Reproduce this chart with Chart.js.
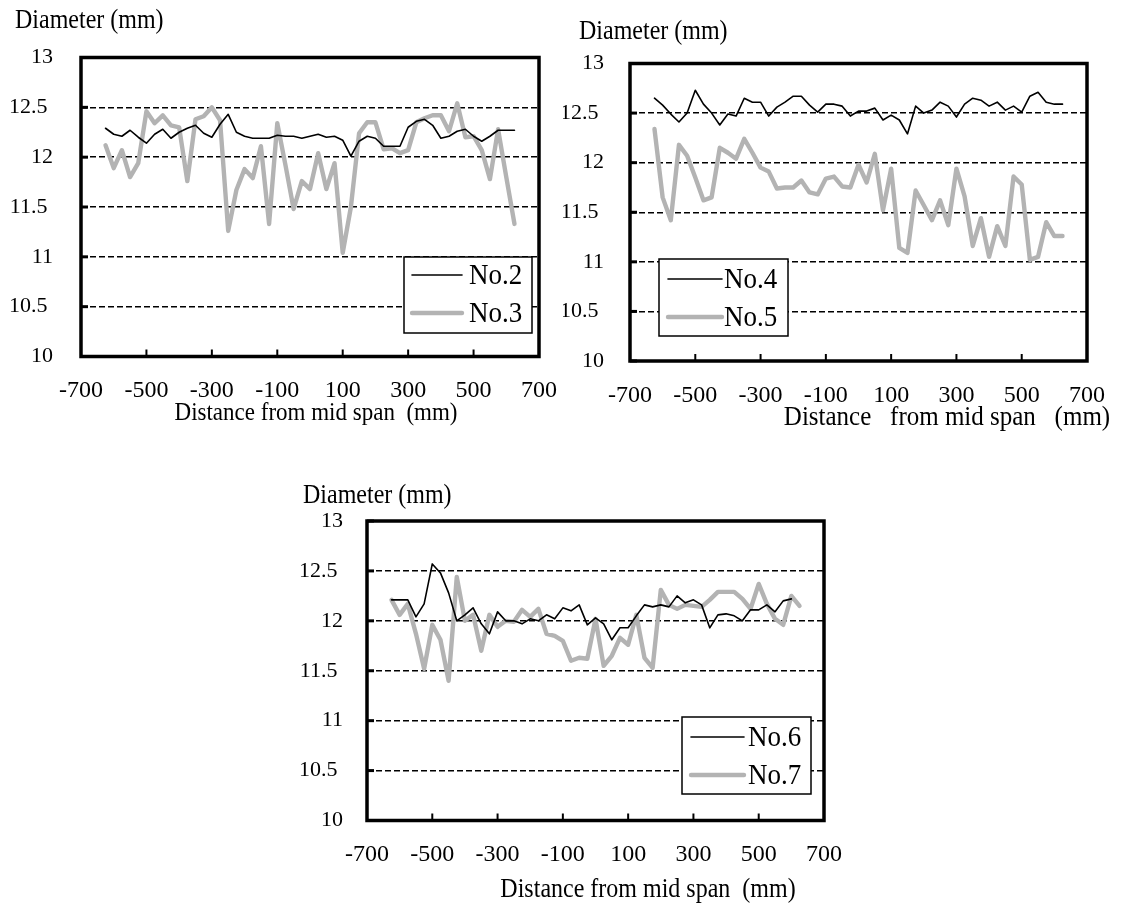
<!DOCTYPE html>
<html>
<head>
<meta charset="utf-8">
<script src="https://cdn.jsdelivr.net/npm/chart.js@4.4.1/dist/chart.umd.min.js"></script>
<style>
  body { margin: 0; background: #fff; }
  #wrap { position: relative; width: 1127px; height: 909px; overflow: hidden; }
  canvas { position: absolute; }
</style>
</head>
<body>
<div id="wrap">
  <canvas id="c1" width="580" height="450" style="left:0px;top:0px"></canvas>
  <canvas id="c2" width="564" height="450" style="left:563px;top:0px"></canvas>
  <canvas id="c3" width="580" height="439" style="left:280px;top:470px"></canvas>
</div>
<script>
// distance from mid span (mm)
const positions = [-625, -600, -575, -550, -525, -500, -475, -450, -425, -400,
  -375, -350, -325, -300, -275, -250, -225, -200, -175, -150,
  -125, -100, -75, -50, -25, 0, 25, 50, 75, 100,
  125, 150, 175, 200, 225, 250, 275, 300, 325, 350,
  375, 400, 425, 450, 475, 500, 525, 550, 575, 600, 625];

const xTicks = [-700, -500, -300, -100, 100, 300, 500, 700];
const yTicks = [10, 10.5, 11, 11.5, 12, 12.5, 13];

// diameters (mm)
const no2 = [12.29, 12.23, 12.21, 12.27, 12.20, 12.14, 12.23, 12.28, 12.19, 12.25,
  12.29, 12.32, 12.24, 12.20, 12.33, 12.43, 12.25, 12.21, 12.19, 12.19,
  12.19, 12.22, 12.21, 12.21, 12.19, 12.21, 12.23, 12.20, 12.21, 12.17,
  12.01, 12.16, 12.21, 12.19, 12.11, 12.11, 12.11, 12.30, 12.36, 12.38,
  12.32, 12.19, 12.21, 12.26, 12.28, 12.21, 12.16, 12.21, 12.27, 12.27, 12.27];
const no3 = [12.12, 11.89, 12.07, 11.80, 11.94, 12.46, 12.34, 12.42, 12.32, 12.30,
  11.76, 12.38, 12.41, 12.50, 12.37, 11.26, 11.67, 11.88, 11.79, 12.11,
  11.33, 12.34, 11.92, 11.48, 11.76, 11.68, 12.04, 11.68, 11.94, 11.04,
  11.50, 12.24, 12.35, 12.35, 12.08, 12.09, 12.04, 12.07, 12.35, 12.39,
  12.42, 12.42, 12.26, 12.54, 12.20, 12.21, 12.07, 11.78, 12.28, 11.80, 11.33];
const no4 = [12.65, 12.58, 12.49, 12.41, 12.50, 12.73, 12.59, 12.50, 12.38, 12.49,
  12.47, 12.65, 12.61, 12.61, 12.47, 12.56, 12.61, 12.67, 12.67, 12.58,
  12.51, 12.59, 12.59, 12.57, 12.47, 12.52, 12.52, 12.55, 12.43, 12.48,
  12.43, 12.29, 12.57, 12.50, 12.53, 12.61, 12.57, 12.46, 12.59, 12.65,
  12.63, 12.57, 12.61, 12.53, 12.57, 12.51, 12.67, 12.71, 12.61, 12.59, 12.59];
const no5 = [12.34, 11.65, 11.42, 12.18, 12.07, 11.85, 11.62, 11.65, 12.15, 12.10,
  12.04, 12.24, 12.10, 11.95, 11.91, 11.74, 11.75, 11.75, 11.82, 11.70,
  11.68, 11.84, 11.86, 11.76, 11.75, 11.98, 11.80, 12.09, 11.52, 11.94,
  11.14, 11.09, 11.72, 11.57, 11.42, 11.62, 11.37, 11.94, 11.66, 11.16,
  11.44, 11.05, 11.36, 11.16, 11.86, 11.78, 11.02, 11.05, 11.40, 11.26, 11.26];
const no6 = [12.21, 12.21, 12.21, 12.04, 12.17, 12.57, 12.48, 12.28, 12.00, 12.06,
  12.13, 11.97, 11.87, 12.09, 12.00, 12.00, 11.97, 12.02, 12.00, 12.06,
  12.02, 12.13, 12.10, 12.16, 11.96, 12.03, 11.97, 11.81, 11.93, 11.93,
  12.05, 12.16, 12.14, 12.16, 12.14, 12.25, 12.18, 12.21, 12.16, 11.93,
  12.06, 12.07, 12.05, 12.00, 12.11, 12.11, 12.16, 12.09, 12.20, 12.22, null];
const no7 = [12.21, 12.06, 12.17, 11.87, 11.52, 11.96, 11.81, 11.40, 12.44, 12.00,
  12.06, 11.70, 12.06, 11.94, 12.00, 11.99, 12.11, 12.04, 12.12, 11.87,
  11.85, 11.80, 11.60, 11.63, 11.62, 12.02, 11.55, 11.65, 11.83, 11.76,
  12.06, 11.63, 11.53, 12.31, 12.16, 12.12, 12.16, 12.15, 12.14, 12.21,
  12.29, 12.29, 12.29, 12.22, 12.12, 12.37, 12.17, 12.02, 11.96, 12.25, 12.15];

const SERIF = '"Liberation Serif", "Times New Roman", serif';
const BLACK = '#000000';
const GREY = '#b3b3b3';
const STRETCH = 1.12; // source text is a little taller than wide

Chart.defaults.font.family = SERIF;
Chart.defaults.color = BLACK;

function toPoints(vals) {
  return positions.map((x, i) => ({ x: x, y: vals[i] }));
}

function tallText(ctx, text, x, y, size, align) {
  ctx.save();
  ctx.translate(x, y);
  ctx.scale(1, STRETCH);
  ctx.font = size + 'px ' + SERIF;
  ctx.textAlign = align;
  ctx.fillText(text, 0, 0);
  ctx.restore();
}

// border, inward ticks, boxed legend and the loose axis titles
const framePlugin = {
  id: 'frame',
  afterDraw(chart, args, opts) {
    const { ctx, chartArea: a, scales: { x, y } } = chart;
    ctx.save();
    ctx.strokeStyle = BLACK;
    ctx.lineCap = 'butt';

    ctx.lineWidth = 3;
    y.ticks.forEach(t => {
      const py = y.getPixelForValue(t.value);
      ctx.beginPath(); ctx.moveTo(a.left, py); ctx.lineTo(a.left + 7, py); ctx.stroke();
    });
    ctx.lineWidth = 2;
    x.ticks.forEach(t => {
      const px = x.getPixelForValue(t.value);
      ctx.beginPath(); ctx.moveTo(px, a.bottom); ctx.lineTo(px, a.bottom - 7); ctx.stroke();
    });

    ctx.lineWidth = 3.5;
    ctx.strokeRect(a.left, a.top, a.right - a.left, a.bottom - a.top);

    // legend
    const lg = opts.legend;
    ctx.fillStyle = '#fff';
    ctx.fillRect(lg.x, lg.y, lg.w, lg.h);
    ctx.lineWidth = 1.5;
    ctx.strokeRect(lg.x, lg.y, lg.w, lg.h);
    ctx.textBaseline = 'middle';
    chart.data.datasets.forEach((ds, i) => {
      const ry = lg.rows[i];
      ctx.strokeStyle = ds.borderColor;
      ctx.lineWidth = ds.borderWidth;
      ctx.lineCap = 'round';
      ctx.beginPath(); ctx.moveTo(lg.x1, ry); ctx.lineTo(lg.x2, ry); ctx.stroke();
      ctx.fillStyle = BLACK;
      tallText(ctx, ds.label, lg.tx, ry + 1, 27, 'left');
    });

    // axis titles
    ctx.fillStyle = BLACK;
    ctx.textBaseline = 'alphabetic';
    tallText(ctx, opts.yTitle.text, opts.yTitle.x, opts.yTitle.y, 24, 'left');
    tallText(ctx, opts.xTitle.text, opts.xTitle.x, opts.xTitle.y, opts.xTitle.size, 'center');
    ctx.restore();
  }
};

function makeChart(id, names, series, pad, yAxisW, yLabelPad, frame) {
  return new Chart(document.getElementById(id), {
    type: 'line',
    data: {
      datasets: [
        { label: names[0], data: toPoints(series[0]), borderColor: BLACK, borderWidth: 1.6 },
        { label: names[1], data: toPoints(series[1]), borderColor: GREY, borderWidth: 4.4 }
      ]
    },
    options: {
      responsive: false,
      animation: false,
      devicePixelRatio: 1,
      layout: { padding: pad },
      elements: {
        point: { radius: 0 },
        line: { tension: 0, borderJoinStyle: 'round', borderCapStyle: 'round' }
      },
      plugins: {
        legend: { display: false },
        tooltip: { enabled: false },
        frame: frame
      },
      scales: {
        x: {
          type: 'linear',
          min: xTicks[0],
          max: xTicks[xTicks.length - 1],
          afterBuildTicks: s => { s.ticks = xTicks.map(v => ({ value: v })); },
          afterFit: s => { s.height = 60; },
          grid: { display: false },
          border: { display: false },
          ticks: { font: { size: 24 }, padding: 12, maxRotation: 0, autoSkip: false }
        },
        y: {
          min: yTicks[0],
          max: yTicks[yTicks.length - 1],
          afterBuildTicks: s => { s.ticks = yTicks.map(v => ({ value: v })); },
          afterFit: s => { s.width = yAxisW; },
          grid: { color: BLACK, lineWidth: 1.5, drawTicks: false },
          border: { display: false, dash: [6, 3] },
          ticks: {
            font: { size: 22 },
            padding: yLabelPad,
            callback: v => Number.isInteger(v) ? String(v) : v + ' '
          }
        }
      }
    },
    plugins: [framePlugin]
  });
}

makeChart('c1', ['No.2', 'No.3'], [no2, no3],
  { left: 0, right: 41, top: 57.5, bottom: 33.5 }, 81, 28, {
    legend: { x: 404, y: 257, w: 128, h: 76, x1: 412, x2: 462, tx: 469, rows: [275, 313] },
    yTitle: { text: 'Diameter (mm)', x: 15, y: 28 },
    xTitle: { text: 'Distance from mid span  (mm)', x: 316, y: 420, size: 23 }
  });

makeChart('c2', ['No.4', 'No.5'], [no4, no5],
  { left: 0, right: 40, top: 63.5, bottom: 29 }, 67, 26, {
    legend: { x: 96, y: 259, w: 129, h: 77, x1: 105, x2: 159, tx: 161, rows: [279, 317] },
    yTitle: { text: 'Diameter (mm)', x: 16, y: 39 },
    xTitle: { text: 'Distance   from mid span   (mm)', x: 384, y: 425, size: 25 }
  });

makeChart('c3', ['No.6', 'No.7'], [no6, no7],
  { left: 0, right: 36, top: 51, bottom: 28.5 }, 87, 24, {
    legend: { x: 402, y: 247, w: 129, h: 77, x1: 411, x2: 464, tx: 468, rows: [267, 305] },
    yTitle: { text: 'Diameter (mm)', x: 23, y: 33 },
    xTitle: { text: 'Distance from mid span  (mm)', x: 368, y: 427, size: 24 }
  });
</script>
</body>
</html>
